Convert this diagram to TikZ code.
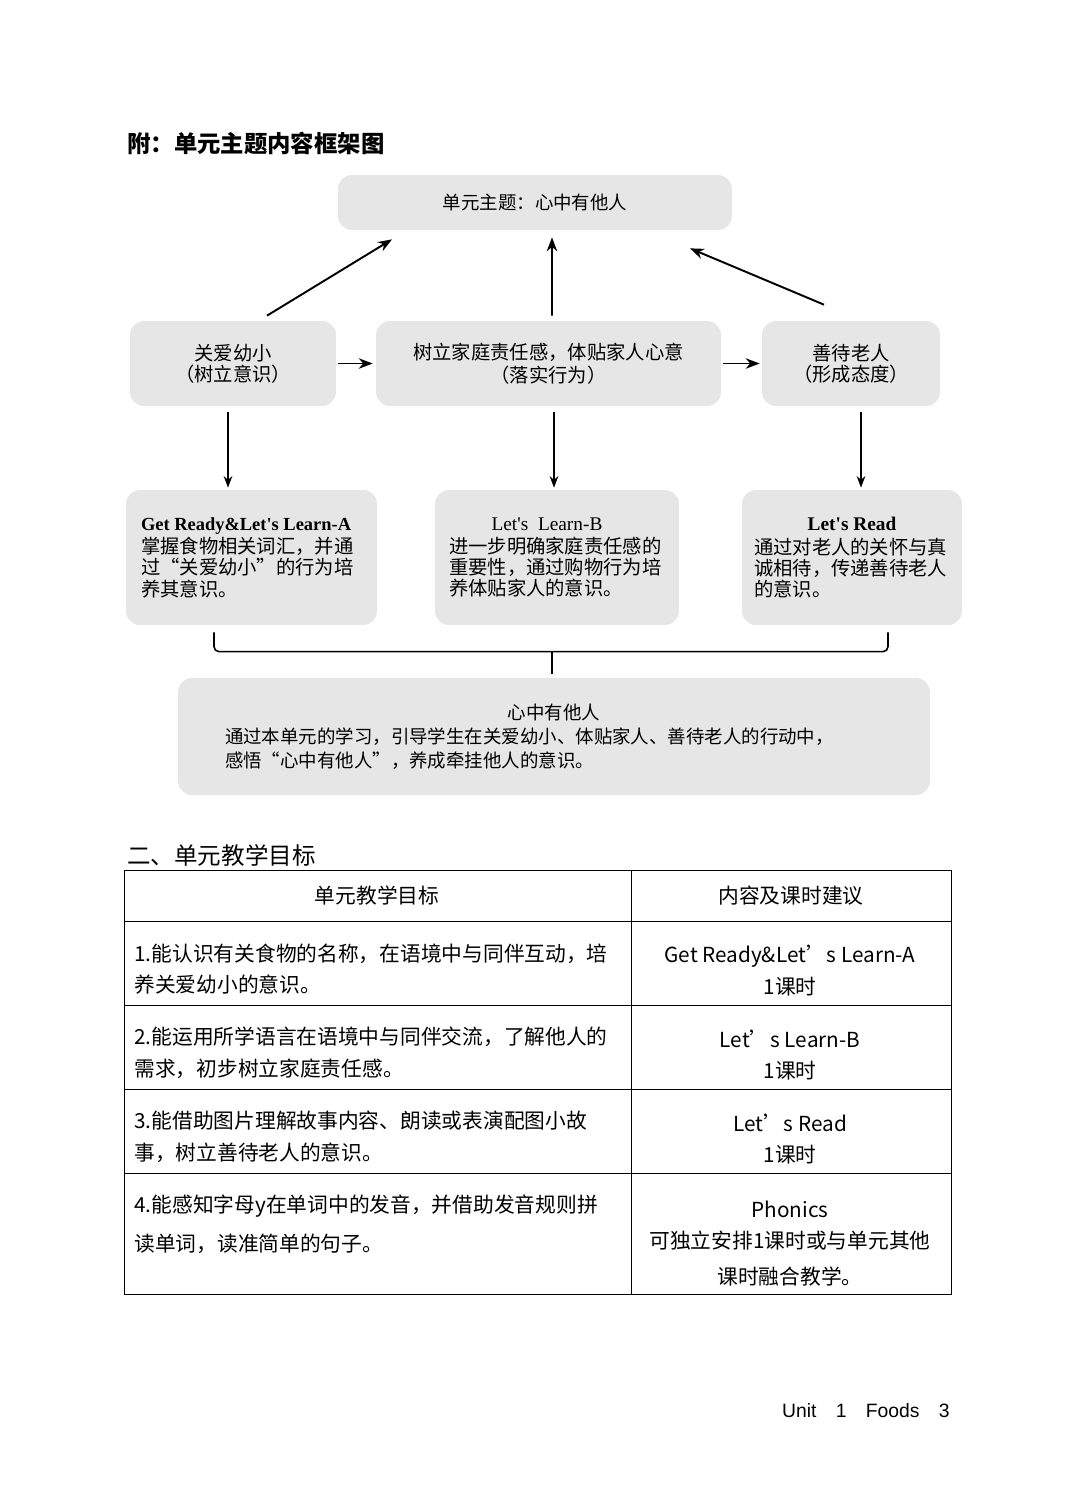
\documentclass[tikz,border=0pt]{standalone}
\usepackage{fontspec}
\usepackage{xcolor}
\setmainfont{Noto Sans CJK SC}
\newfontfamily\timesfont{Liberation Serif}
\newfontfamily\arialfont{Liberation Sans}
\usetikzlibrary{arrows.meta}
\definecolor{boxgray}{RGB}{230,230,230}
\newcommand{\boxline}[2]{\makebox[#1][l]{#2}}

\begin{document}
\begin{tikzpicture}[x=0.02cm, y=-0.02cm, >=Stealth,
  box/.style={rectangle, rounded corners=0.28cm, fill=boxgray, align=center, inner sep=0pt, font=\fontsize{11}{12}\selectfont},
  uparrow/.style={->, line width=1.1pt},
  flowarrow/.style={->, line width=0.8pt},
  cell/.style={inner sep=0pt, font=\fontsize{11.8}{18}\selectfont}]
\fill[white] (0,0) rectangle (1080,1512);
\useasboundingbox (0,0) rectangle (1080,1512);

% Heading
\node[anchor=west, inner sep=0pt, font=\fontsize{13.3}{16}\selectfont\bfseries] (title) at (127,143) {附：单元主题内容框架图};

% Unit theme
\node[box, minimum width=7.88cm, minimum height=1.1cm, font=\fontsize{10.5}{12}\selectfont] (theme) at (535,202.5) {单元主题：心中有他人};

% Three strands
\node[box, minimum width=4.12cm, minimum height=1.7cm] (care) at (233,363.5) {关爱幼小\\（树立意识）};
\node[box, minimum width=6.9cm, minimum height=1.7cm] (duty) at (548.5,363.5) {树立家庭责任感，体贴家人心意\\[1pt]（落实行为）};
\node[box, minimum width=3.56cm, minimum height=1.7cm] (respect) at (851,363.5) {善待老人\\（形成态度）};

% Lessons
\node[box, minimum width=5.02cm, minimum height=2.7cm] (ready) at (251.5,557.5) {\boxline{4.42cm}{\timesfont\bfseries\fontsize{10.5}{12}\selectfont Get Ready\&Let's Learn-A}\\[1.5pt]
  \boxline{4.42cm}{掌握食物相关词汇，并通}\\ \boxline{4.42cm}{过“关爱幼小”的行为培}\\ \boxline{4.42cm}{养其意识。}};
\node[box, minimum width=4.88cm, minimum height=2.7cm] (learnb) at (557,557.5) {\hspace*{-0.4cm}{\timesfont Let's~~Learn-B}\\[1.5pt]
  \boxline{4.32cm}{进一步明确家庭责任感的}\\ \boxline{4.32cm}{重要性，通过购物行为培}\\ \boxline{4.32cm}{养体贴家人的意识。}};
\node[box, minimum width=4.4cm, minimum height=2.7cm] (read) at (852,557.5) {{\timesfont\bfseries Let's Read}\\[1.5pt]
  \boxline{3.92cm}{通过对老人的关怀与真}\\ \boxline{3.92cm}{诚相待，传递善待老人}\\ \boxline{3.92cm}{的意识。}};

% Summary
\node[box, minimum width=15.04cm, minimum height=2.34cm, font=\fontsize{10.5}{13.6}\selectfont] (summary) at (554,736.5) {心中有他人\\
  \boxline{13.16cm}{通过本单元的学习，引导学生在关爱幼小、体贴家人、善待老人的行动中，}\\
  \boxline{13.16cm}{感悟“心中有他人”，养成牵挂他人的意识。}};

% Arrows up to the theme
\draw[uparrow] ([xshift=0.68cm, yshift=0.1cm]care.north) -- ([xshift=-2.86cm, yshift=-0.18cm]theme.south);
\draw[uparrow] ([xshift=0.07cm, yshift=0.1cm]duty.north) -- ([xshift=0.34cm, yshift=-0.14cm]theme.south);
\draw[uparrow] ([xshift=-0.54cm, yshift=0.32cm]respect.north) -- ([xshift=3.1cm, yshift=-0.36cm]theme.south);

% Arrows along the row
\draw[uparrow, shorten <=0.04cm, shorten >=0.06cm] (care) -- (duty);
\draw[uparrow, shorten <=0.04cm, shorten >=0.04cm] (duty) -- (respect);

% Arrows down to the lessons
\draw[flowarrow, shorten <=0.12cm, shorten >=0.04cm] ([xshift=-0.1cm]care.south) -- ([xshift=-0.1cm]care.south |- ready.north);
\draw[flowarrow, shorten <=0.12cm, shorten >=0.04cm] ([xshift=0.11cm]duty.south) -- ([xshift=0.11cm]duty.south |- learnb.north);
\draw[flowarrow, shorten <=0.12cm, shorten >=0.04cm] ([xshift=0.2cm]respect.south) -- ([xshift=0.2cm]respect.south |- read.north);

% Brace into the summary
\coordinate (braceL) at ([xshift=-0.75cm, yshift=-0.14cm]ready.south);
\coordinate (braceR) at ([xshift=0.72cm, yshift=-0.14cm]read.south);
\coordinate (braceM) at ([xshift=-0.04cm, yshift=0.52cm]summary.north);
\draw[line width=0.9pt, rounded corners=0.1cm] (braceL) |- (braceM) -| (braceR);
\draw[line width=0.9pt] (braceM) -- ([xshift=-0.04cm, yshift=0.08cm]summary.north);

% Goals table
\node[anchor=west, inner sep=0pt, font=\fontsize{13.4}{16}\selectfont] (goals) at (127,855) {二、单元教学目标};
\draw[line width=0.5pt] (124,870) rectangle (951,1294);
\draw[line width=0.5pt] (631,870) -- (631,1294);
\foreach \y in {921,1005,1089,1173}
  \draw[line width=0.5pt] (124,\y) -- (951,\y);

\node[cell] (head1) at (377,896) {单元教学目标};
\node[cell] (head2) at (791,896) {内容及课时建议};

\node[cell, anchor=west, align=left] (goal1) at (134,969) {1.能认识有关食物的名称，在语境中与同伴互动，培\\养关爱幼小的意识。};
\node[cell, anchor=west, align=left] (goal2) at (134,1053) {2.能运用所学语言在语境中与同伴交流，了解他人的\\需求，初步树立家庭责任感。};
\node[cell, anchor=west, align=left] (goal3) at (134,1137) {3.能借助图片理解故事内容、朗读或表演配图小故\\事，树立善待老人的意识。};
\node[cell, anchor=west, align=left] (goal4) at (134,1224.5) {4.能感知字母y在单词中的发音，并借助发音规则拼\\[4pt]读单词，读准简单的句子。};

\node[cell, align=center] (hour1) at (790,970.5) {Get Ready\&Let’s Learn-A\\1课时};
\node[cell, align=center] (hour2) at (790,1055) {Let’s Learn-B\\1课时};
\node[cell, align=center] (hour3) at (790,1139) {Let’s Read\\1课时};
\node[cell, align=center] (hour4) at (790,1243.5) {Phonics\\[-0.4pt]可独立安排1课时或与单元其他\\[2.4pt]课时融合教学。};

% Footer
\node[anchor=east, inner sep=0pt, font=\arialfont\fontsize{11}{13}\selectfont] (footer) at (950,1411) {Unit\quad 1\quad Foods\quad 3};
\end{tikzpicture}
\end{document}
